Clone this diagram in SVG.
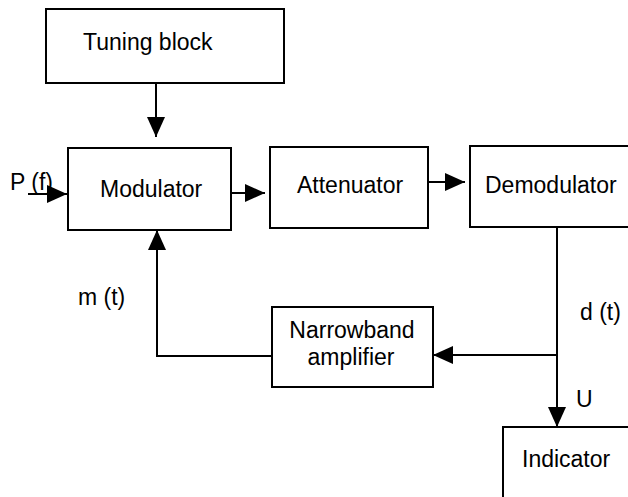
<svg xmlns="http://www.w3.org/2000/svg" width="628" height="497" viewBox="0 0 628 497">
<defs>
<style>
.box{fill:#fff;stroke:#000;stroke-width:2}
.lbl{font-family:"Liberation Sans",Arial,sans-serif;font-size:23px;fill:#000}
.con{fill:none;stroke:#000;stroke-width:2}
</style>
<marker id="ah" markerUnits="userSpaceOnUse" markerWidth="20" markerHeight="18" refX="20" refY="9" orient="auto">
<path d="M0,0 L20,9 L0,18 Z" fill="#000"/>
</marker>
</defs>
<rect width="628" height="497" fill="#fff"/>
<g id="tuning"><rect class="box" x="46" y="9" width="238" height="74"/><text class="lbl" x="83" y="50">Tuning block</text></g>
<g id="modulator"><rect class="box" x="68" y="148" width="163" height="82"/><text class="lbl" x="100" y="197">Modulator</text></g>
<g id="attenuator"><rect class="box" x="270" y="147" width="158" height="81"/><text class="lbl" x="297" y="193">Attenuator</text></g>
<g id="demodulator"><rect class="box" x="470" y="146" width="170" height="81"/><text class="lbl" x="485" y="193">Demodulator</text></g>
<g id="narrowband"><rect class="box" x="272" y="307" width="161" height="80"/><text class="lbl" x="352" y="338" text-anchor="middle">Narrowband</text><text class="lbl" x="351" y="365" text-anchor="middle">amplifier</text></g>
<g id="indicator"><rect class="box" x="503" y="427" width="140" height="80"/><text class="lbl" x="522" y="467">Indicator</text></g>
<g id="connectors">
<path class="con" d="M156,83 V137" marker-end="url(#ah)"/>
<path class="con" d="M28,194 H67" marker-end="url(#ah)"/>
<path class="con" d="M231,193 H265" marker-end="url(#ah)"/>
<path class="con" d="M428,182 H465" marker-end="url(#ah)"/>
<path class="con" d="M557,227 V427" marker-end="url(#ah)"/>
<path class="con" d="M557,355 H433" marker-end="url(#ah)"/>
<path class="con" d="M272,356 H157 V230" marker-end="url(#ah)"/>
</g>
<g id="labels">
<text class="lbl" x="10" y="190">P (f)</text>
<text class="lbl" x="78" y="305">m (t)</text>
<text class="lbl" x="580" y="320">d (t)</text>
<text class="lbl" x="576" y="407">U</text>
</g>
</svg>
